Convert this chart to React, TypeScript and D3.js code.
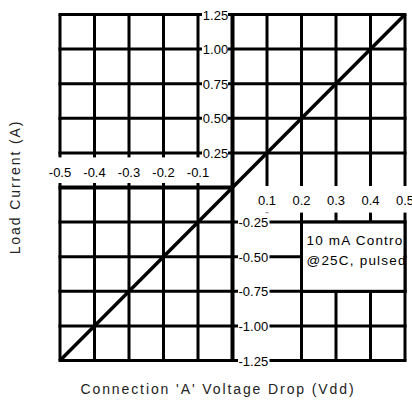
import React from 'react';
import * as d3 from 'd3';

// x: connection voltage drop (Vdd), y: load current (A)
const xTicks = [-0.5, -0.4, -0.3, -0.2, -0.1, 0.1, 0.2, 0.3, 0.4, 0.5];
const yTicks = [1.25, 1.0, 0.75, 0.5, 0.25, -0.25, -0.5, -0.75, -1.0, -1.25];
const xLabels = ['-0.5', '-0.4', '-0.3', '-0.2', '-0.1', '0.1', '0.2', '0.3', '0.4', '0.5'];
const yLabels = ['1.25', '1.00', '0.75', '0.50', '0.25', '-0.25', '-0.50', '-0.75', '-1.00', '-1.25'];

const voltage = [-0.5, 0, 0.5];
const current = [-1.25, 0, 1.25];

const noteLines = ['10 mA Control', '@25C, pulsed'];
const noteBox = { x0: 0.2, x1: 0.5, y0: -0.25, y1: -0.75 };

const W = 412;
const H = 402;
const font = '"Liberation Sans", Arial, sans-serif';

const App = () => {
  const x = d3.scaleLinear().domain([-0.5, 0.5]).range([60, 405]);
  const y = d3.scaleLinear().domain([-1.25, 1.25]).range([360.5, 14.5]);

  const pts = voltage.map((v, i) => [v, current[i]] as [number, number]);
  const line = d3
    .line<[number, number]>()
    .x((d) => x(d[0]))
    .y((d) => y(d[1]));

  const x0 = x(0);
  const y0 = y(0);

  return (
    <div style={{ position: 'absolute', left: 0, top: 0 }}>
      <svg width={W} height={H} style={{ display: 'block', background: '#fff' }}>
        {/* grid */}
        {xTicks.map((t) => (
          <line key={'v' + t} x1={x(t)} x2={x(t)} y1={y(1.25)} y2={y(-1.25)} stroke="#000" strokeWidth={3} />
        ))}
        {yTicks.map((t) => (
          <line key={'h' + t} x1={x(-0.5) - 1.5} x2={x(0.5) + 1.5} y1={y(t)} y2={y(t)} stroke="#000" strokeWidth={3} />
        ))}

        {/* label gaps */}
        <rect x={30} y={y(0.25) + 4.5} width={x0 - 32} height={y0 - y(0.25) - 9} fill="#fff" />
        <rect x={x0 + 2} y={y0 - 1.5} width={W - x0} height={y(-0.25) - y0 - 8} fill="#fff" />
        <rect x={x(-0.1) + 4} y={0} width={x0 - x(-0.1) - 8.5} height={y0 - 4} fill="#fff" />
        <rect x={x0 + 5.5} y={y(-0.25) - 9} width={x(0.1) - x0 - 3} height={H} fill="#fff" />

        {/* note box */}
        <rect
          x={x(noteBox.x0)}
          y={y(noteBox.y0)}
          width={x(noteBox.x1) - x(noteBox.x0)}
          height={y(noteBox.y1) - y(noteBox.y0)}
          fill="#fff"
          stroke="#000"
          strokeWidth={3}
        />

        {/* axes */}
        <line x1={x0} x2={x0} y1={y(1.25) - 1.5} y2={y(-1.25) + 1.5} stroke="#000" strokeWidth={4} />
        <line x1={x(-0.5) - 1.5} x2={x0} y1={y0} y2={y0} stroke="#000" strokeWidth={4} />

        <path d={line(pts) || ''} fill="none" stroke="#000" strokeWidth={3.5} />

        {/* tick labels */}
        <g fontFamily={font} fontSize={13} fill="#000">
          {xTicks.map((t, i) => (
            <text key={'xl' + t} x={x(t)} y={t < 0 ? 177 : 205} textAnchor="middle">
              {xLabels[i]}
            </text>
          ))}
          {yTicks.map((t, i) =>
            t > 0 ? (
              <text key={'yl' + t} x={215.5} y={y(t) + 5} textAnchor="middle">
                {yLabels[i]}
              </text>
            ) : (
              <text key={'yl' + t} x={238.5} y={y(t) + 5} textAnchor="start">
                {yLabels[i]}
              </text>
            )
          )}
        </g>

        {/* note */}
        <g fontFamily={font} fontSize={13.5} letterSpacing={1.2} fill="#000">
          {noteLines.map((s, i) => (
            <text key={s} x={x(noteBox.x0) + 5} y={245 + i * 20}>
              {s}
            </text>
          ))}
        </g>

        {/* axis titles */}
        <text x={218} y={394} textAnchor="middle" fontFamily={font} fontSize={14} letterSpacing={1.9} fill="#222">
          Connection 'A' Voltage Drop (Vdd)
        </text>
        <text
          transform={`translate(20, 187) rotate(-90)`}
          textAnchor="middle"
          fontFamily={font}
          fontSize={14}
          letterSpacing={1.9}
          fill="#222"
        >
          Load Current (A)
        </text>
      </svg>
    </div>
  );
};

export default App;
